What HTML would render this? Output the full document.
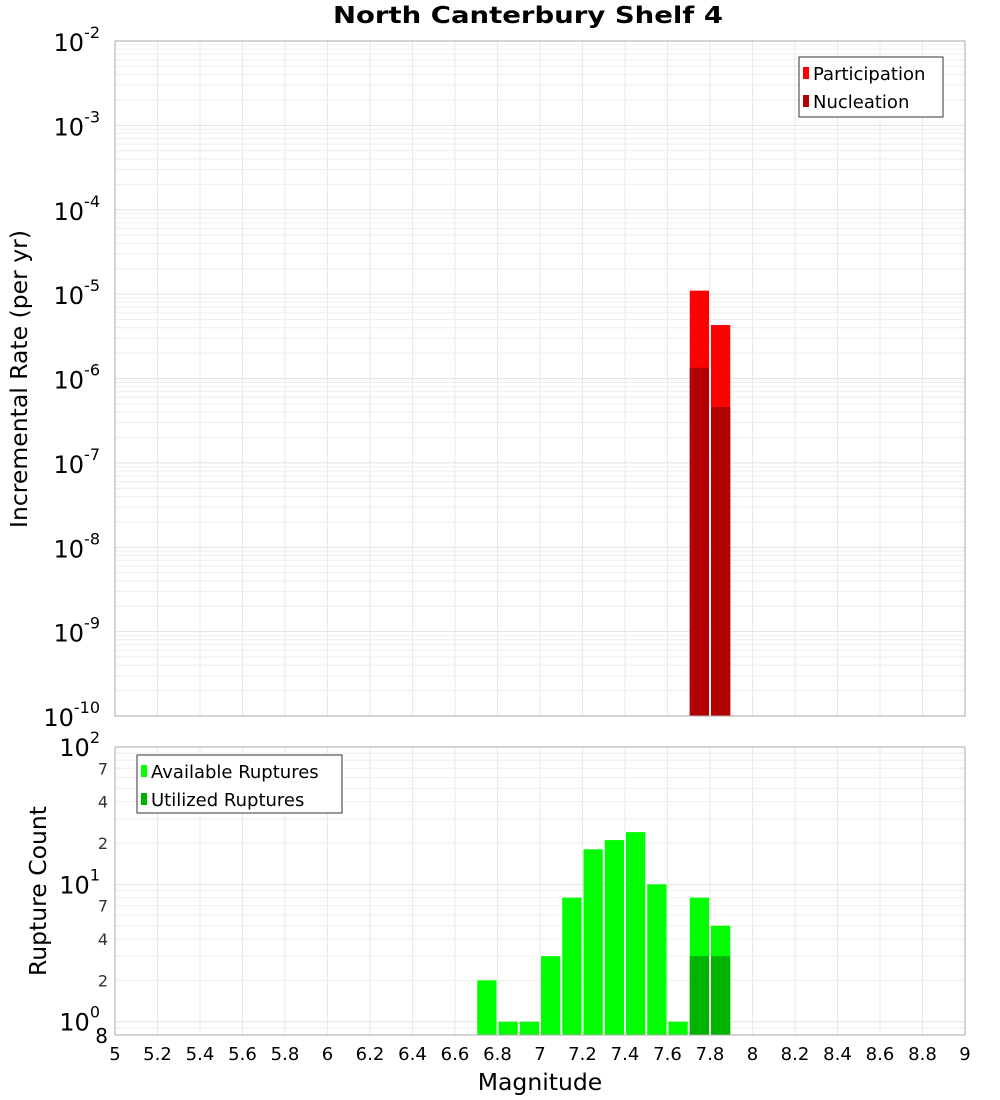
<!DOCTYPE html>
<html><head><meta charset="utf-8">
<style>
html,body{margin:0;padding:0;background:#fff;}
svg{display:block;font-family:"DejaVu Sans","Liberation Sans",sans-serif;}
</style></head>
<body>
<svg id="chart" width="1000" height="1100" viewBox="0 0 1000 1100" xmlns="http://www.w3.org/2000/svg">
<rect x="0" y="0" width="1000" height="1100" fill="#fff"/>
<text x="528" y="23" text-anchor="middle" font-size="23" font-weight="bold" textLength="390" lengthAdjust="spacingAndGlyphs">North Canterbury Shelf 4</text>
<g id="top"></g>
<g id="bot"></g>
<text transform="translate(27,379) rotate(-90)" text-anchor="middle" font-size="23.5">Incremental Rate (per yr)</text>
<text transform="translate(46,891) rotate(-90)" text-anchor="middle" font-size="23.5">Rupture Count</text>
<text x="540" y="1090" text-anchor="middle" font-size="23.5">Magnitude</text>
</svg>
<script>
const binCenters = [6.75,6.85,6.95,7.05,7.15,7.25,7.35,7.45,7.55,7.65,7.75,7.85];
const participation = [0,0,0,0,0,0,0,0,0,0,1.1e-5,4.3e-6];
const nucleation = [0,0,0,0,0,0,0,0,0,0,1.34e-6,4.6e-7];
const available = [2,1,1,3,8,18,21,24,10,1,8,5];
const utilized = [0,0,0,0,0,0,0,0,0,0,3,3];
const xTicks = [5,5.2,5.4,5.6,5.8,6,6.2,6.4,6.6,6.8,7,7.2,7.4,7.6,7.8,8,8.2,8.4,8.6,8.8,9];
const topExps = [-10,-9,-8,-7,-6,-5,-4,-3,-2];
const botMinorLabels = [2,4,7];

const NS="http://www.w3.org/2000/svg";
const L=115,R=965;
const T1=41,B1=716,T2=747,B2=1035;
const xS=m=>L+(m-5)/(9-5)*(R-L);
const yTop=v=>T1+(-2-Math.log10(v))/8*(B1-T1);
const botMin=0.8;
const yBot=v=>T2+(2-Math.log10(v))/(2-Math.log10(botMin))*(B2-T2);
function mk(p,tag,a,txt){const e=document.createElementNS(NS,tag);for(const k in a)e.setAttribute(k,a[k]);if(txt!==undefined)e.textContent=txt;p.appendChild(e);return e;}

function frame(g,T,B,name){
  for(let i=0;i<xTicks.length;i++){const x=xS(xTicks[i]);
    const ln=mk(g,'line',{x1:x,x2:x,y1:T,y2:B,stroke:'#e8e8e8','stroke-width':1});
    
    }
}
const gTop=document.getElementById('top'),gBot=document.getElementById('bot');
frame(gTop,T1,B1,'top');
frame(gBot,T2,B2,'bottom');
for(let e=-10;e<-2;e++){for(let k=1;k<10;k++){const y=yTop(k*Math.pow(10,e));
  const ln=mk(gTop,'line',{x1:L,x2:R,y1:y,y2:y,stroke:k==1?'#e2e2e2':'#eeeeee','stroke-width':1});
  
  }}
for(let e=-1;e<2;e++){for(let k=1;k<10;k++){const v=k*Math.pow(10,e);if(v<botMin)continue;const y=yBot(v);
  const ln=mk(gBot,'line',{x1:L,x2:R,y1:y,y2:y,stroke:k==1?'#e2e2e2':'#eeeeee','stroke-width':1});
  
  }}
const bw=0.1;
for(let i=0;i<binCenters.length;i++){
  const x0=xS(binCenters[i]-bw/2)+1,x1=xS(binCenters[i]+bw/2)-1;
  if(participation[i]>0){const r=mk(gTop,'rect',{x:x0,y:yTop(participation[i]),width:x1-x0,height:B1-yTop(participation[i]),fill:'#ff0000'});
    
    }
  if(nucleation[i]>0){const r=mk(gTop,'rect',{x:x0,y:yTop(nucleation[i]),width:x1-x0,height:B1-yTop(nucleation[i]),fill:'#b30000'});
    
    }
  if(available[i]>0){const r=mk(gBot,'rect',{x:x0,y:yBot(available[i]),width:x1-x0,height:B2-yBot(available[i]),fill:'#00ff00'});
    
    }
  if(utilized[i]>0){const r=mk(gBot,'rect',{x:x0,y:yBot(utilized[i]),width:x1-x0,height:B2-yBot(utilized[i]),fill:'#00b300'});
    
    }
}
const b1=mk(gTop,'rect',{x:L,y:T1,width:R-L,height:B1-T1,fill:'none',stroke:'#aaa','stroke-width':1});


const b2=mk(gBot,'rect',{x:L,y:T2,width:R-L,height:B2-T2,fill:'none',stroke:'#aaa','stroke-width':1});


for(let i=0;i<xTicks.length;i++){const t=mk(gBot,'text',{x:xS(xTicks[i]),y:1060,'text-anchor':'middle','font-size':18},String(xTicks[i]));
  
  }
for(let i=0;i<topExps.length;i++){const y=yTop(Math.pow(10,topExps[i]));
  const t=mk(gTop,'text',{x:100,y:y+10,'text-anchor':'end','font-size':24});
  
  
  mk(t,'tspan',{},'10');
  mk(t,'tspan',{dy:-13,'font-size':16},String(topExps[i]));}
[[100,'2'],[10,'1'],[1,'0']].forEach(([v,ex])=>{const y=yBot(v);
  const t=mk(gBot,'text',{x:100,y:y+9,'text-anchor':'end','font-size':24});
  
  
  mk(t,'tspan',{},'10');
  mk(t,'tspan',{dy:-13,'font-size':16},ex);});
for(let e=0;e<2;e++){for(const k of botMinorLabels){const y=yBot(k*Math.pow(10,e));
  const t=mk(gBot,'text',{x:108,y:y+6,'text-anchor':'end','font-size':16,fill:'#333'},String(k));
  
  }}
{const t=mk(gBot,'text',{x:108,y:yBot(0.8)+8,'text-anchor':'end','font-size':20},'8');
 
 }
function legend(g,x,y,w,h,items,name){
  const lg=mk(g,'g',{});
  
  
  mk(lg,'rect',{x:x,y:y,width:w,height:h,fill:'#fff',stroke:'#333','stroke-width':1});
  items.forEach((it,i)=>{const cy=y+16+i*28;
    mk(lg,'rect',{x:x+4,y:cy-6,width:6,height:12,fill:it[1]});
    mk(lg,'text',{x:x+14,y:cy+7,'font-size':18},it[0]);});
}
legend(gTop,799,57,144,60,[['Participation','#ff0000'],['Nucleation','#b30000']],'top-legend');
legend(gBot,137,755,205,58,[['Available Ruptures','#00ff00'],['Utilized Ruptures','#00b300']],'bottom-legend');
</script>
</body></html>
